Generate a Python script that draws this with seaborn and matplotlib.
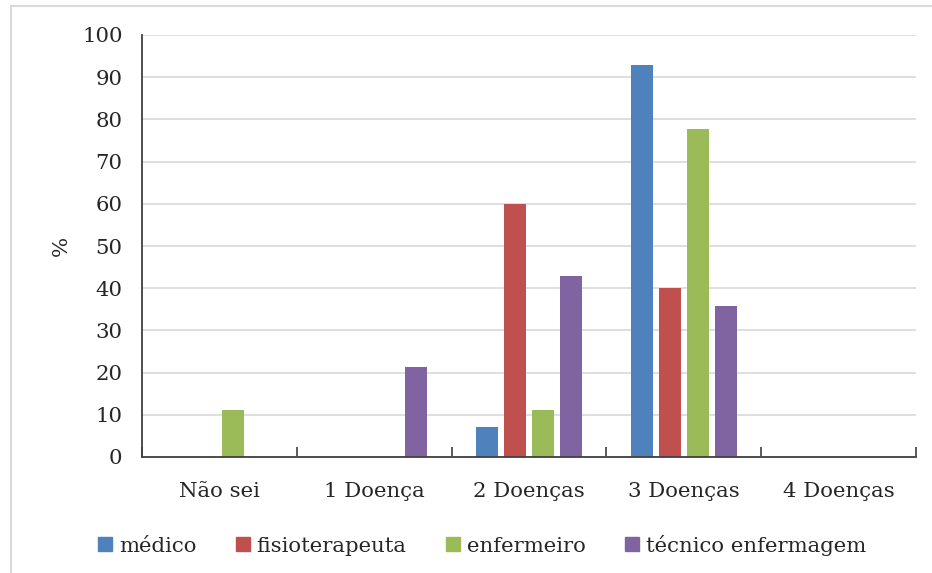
import matplotlib
matplotlib.use("Agg")
import matplotlib.pyplot as plt
from matplotlib.lines import Line2D
from matplotlib.patches import Rectangle
import seaborn as sns
import pandas as pd

categories = ["Não sei", "1 Doença", "2 Doenças", "3 Doenças", "4 Doenças"]
series = ["médico", "fisioterapeuta", "enfermeiro", "técnico enfermagem"]
medico = [0, 0, 7.1, 92.9, 0]
fisioterapeuta = [0, 0, 60, 40, 0]
enfermeiro = [11.1, 0, 11.1, 77.8, 0]
tecnico = [0, 21.4, 42.9, 35.7, 0]
colors = ["#4F81BD", "#C0504D", "#9BBB59", "#8064A2"]
yticks = list(range(0, 101, 10))

rows = []
for name, vals in zip(series, [medico, fisioterapeuta, enfermeiro, tecnico]):
    for c, v in zip(categories, vals):
        rows.append({"cat": c, "serie": name, "val": v})
df = pd.DataFrame(rows)

sns.set_style("white")
plt.rcParams["font.family"] = ["DejaVu Serif"]
FS = 15.3

fig = plt.figure(figsize=(9.32, 5.73), dpi=100)
ax = fig.add_axes([142/932, 1-457/573, (916-142)/932, (457-35)/573])

sns.barplot(data=df, x="cat", y="val", hue="serie", order=categories,
            hue_order=series, palette=colors, width=0.7226, gap=0.214,
            saturation=1, ax=ax, legend=False, linewidth=0)

ax.set_ylim(0, 100)
ax.set_xlim(-0.5, 4.5)
ax.set_yticks(yticks)
ax.set_yticklabels([str(t) for t in yticks], fontsize=FS, color="#262626")
ax.yaxis.grid(True, color="#D9D9D9", linewidth=1.2)
ax.set_axisbelow(True)
ax.tick_params(axis="y", length=0, pad=14)
ax.set_xticks(range(len(categories)))
ax.set_xticklabels(categories, fontsize=FS, color="#262626")
ax.tick_params(axis="x", which="major", length=0, pad=18)
ax.set_xticks([i - 0.5 for i in range(len(categories) + 1)], minor=True)
ax.tick_params(axis="x", which="minor", bottom=True, length=7, direction="in",
               width=1.2, color="#404040")
ax.set_xlabel("")
ax.set_ylabel("%", fontsize=FS, color="#262626", labelpad=8)
for s in ["top", "right"]:
    ax.spines[s].set_visible(False)
for s in ["left", "bottom"]:
    ax.spines[s].set_color("#404040")
    ax.spines[s].set_linewidth(1.3)

handles = [Line2D([0], [0], marker="s", linestyle="none", markersize=10,
                  markerfacecolor=c, markeredgecolor=c) for c in colors]
fig.legend(handles, series, loc="center", bbox_to_anchor=(482/932, 1-545/573),
           ncol=4, frameon=False, fontsize=FS, handlelength=0.7,
           handletextpad=0.3, columnspacing=1.83, labelcolor="#262626")

fig.patches.append(Rectangle((11/932, -0.1), 1.2, 1-6/573+0.1, transform=fig.transFigure,
                             fill=False, edgecolor="#D9D9D9", linewidth=1.5))

fig.savefig("out.png", dpi=100)
